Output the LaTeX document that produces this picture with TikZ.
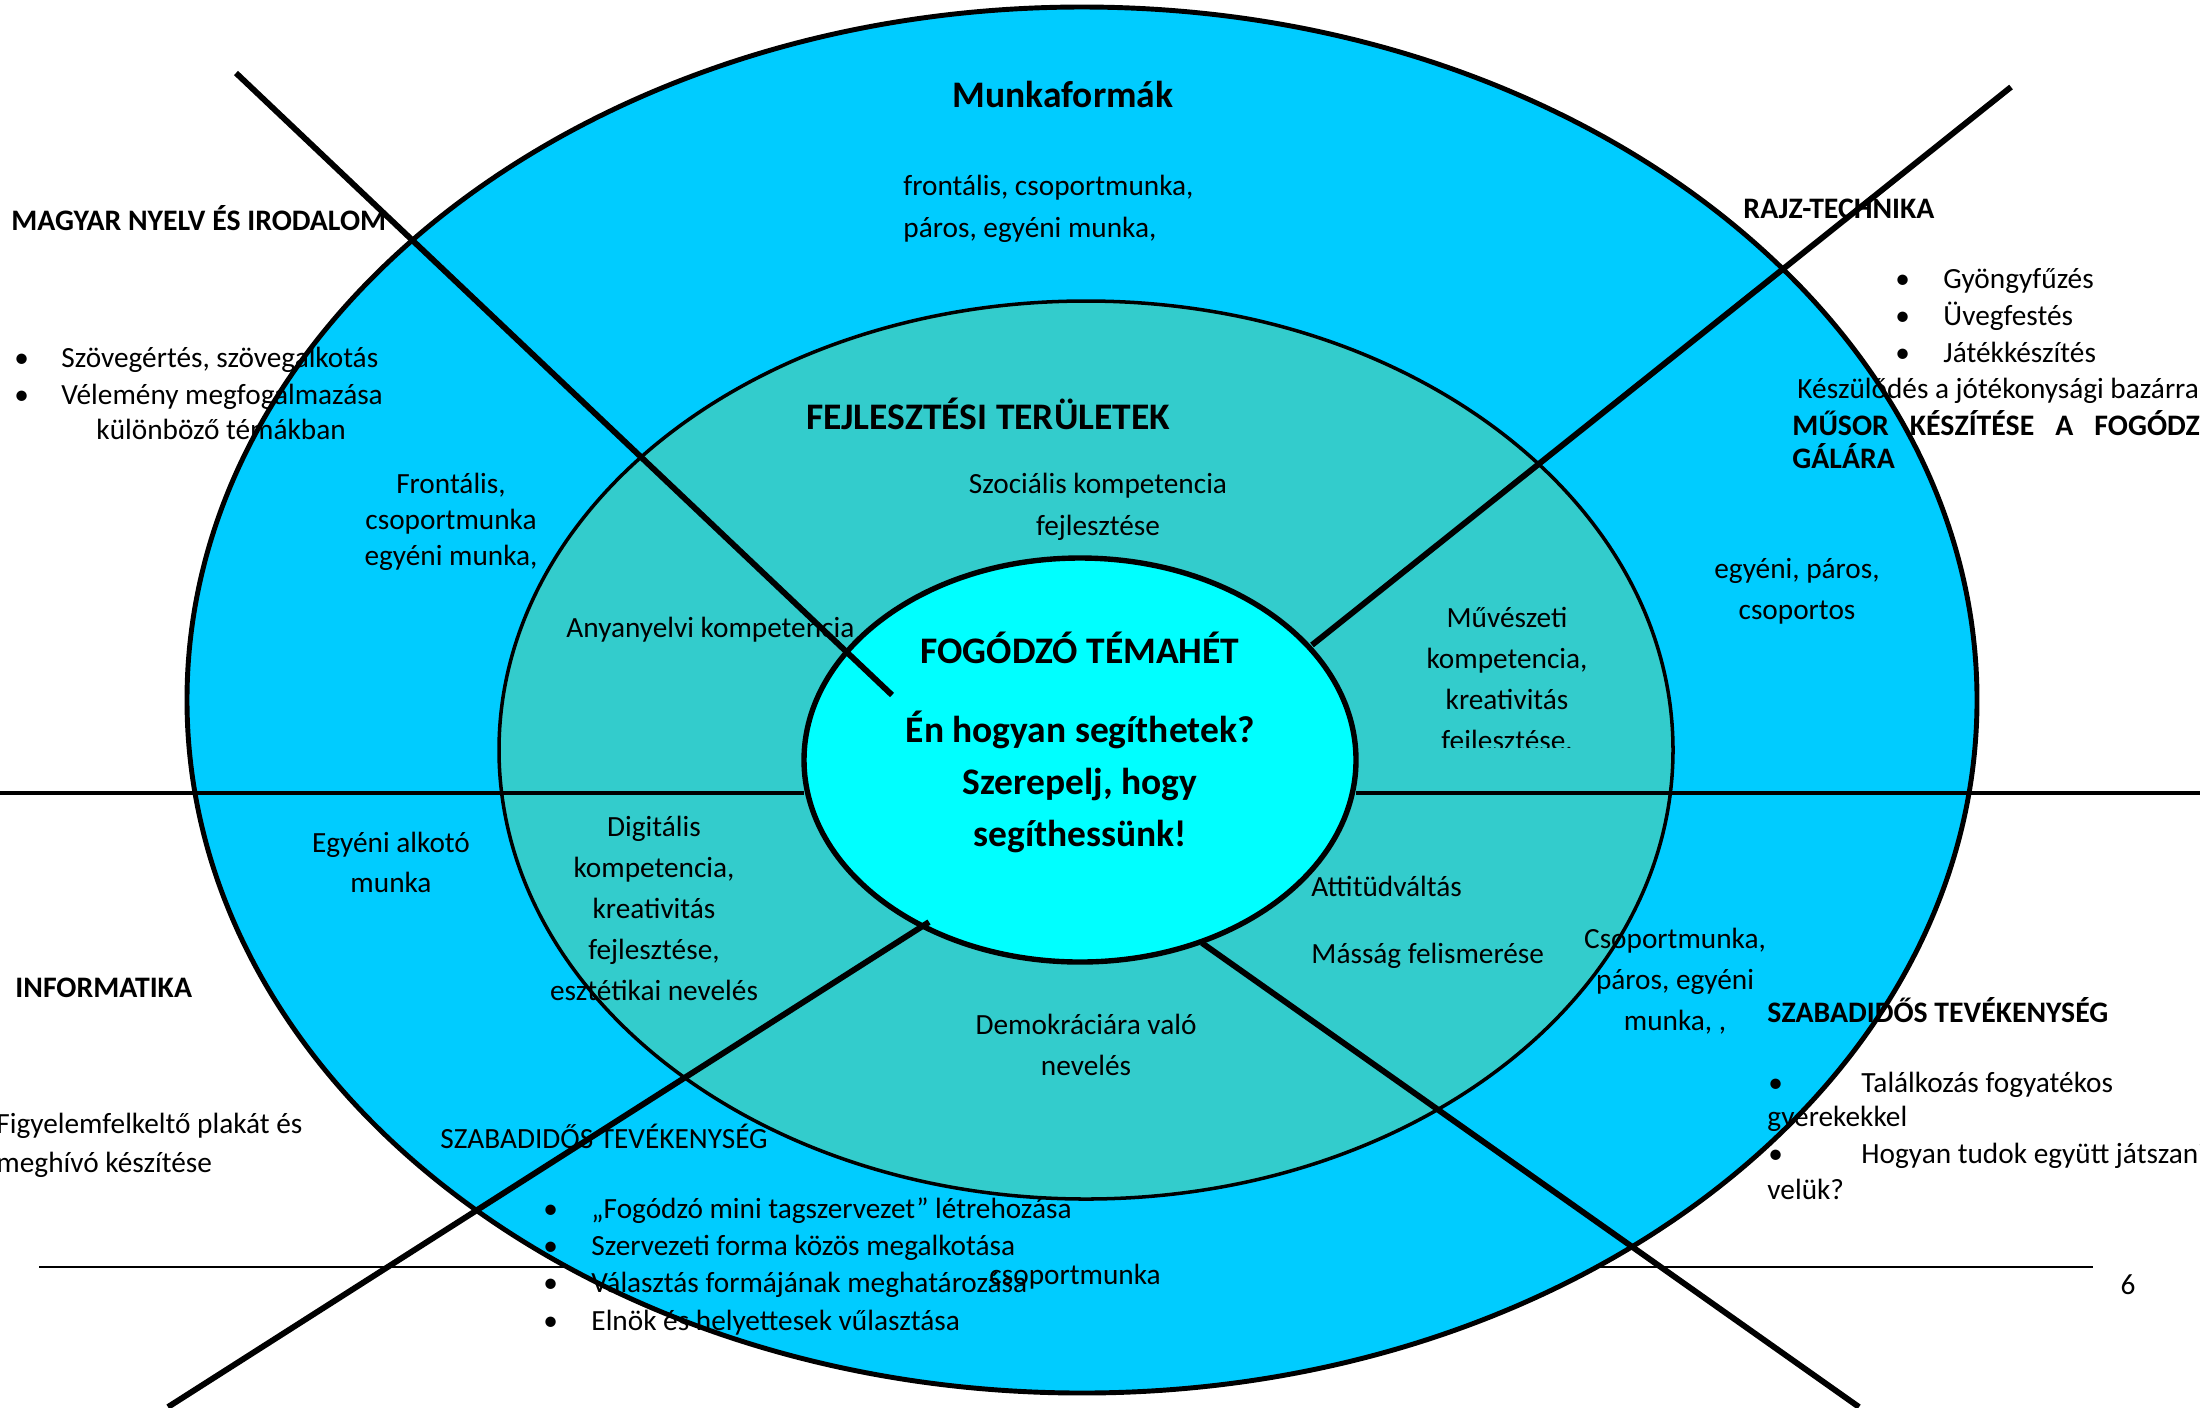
\documentclass[tikz,border=0pt]{standalone}
\usepackage{fontspec}
\setmainfont{Carlito}
\usepackage{xcolor}
\usetikzlibrary{positioning}
\definecolor{outerblue}{HTML}{00CCFF}
\definecolor{midteal}{HTML}{33CCCC}
\definecolor{innercyan}{HTML}{00FFFF}

\tikzset{
  txt/.style={inner sep=0pt, font=\fontsize{12.5}{15}\selectfont},
  hdr/.style={inner sep=0pt, font=\fontsize{12.7}{15}\selectfont\bfseries},
  subhdr/.style={inner sep=0pt, font=\fontsize{16}{19}\selectfont\bfseries},
  bighdr/.style={inner sep=0pt, font=\fontsize{16}{19}\selectfont\bfseries},
  divider/.style={line width=2.5pt},
}

\begin{document}
\begin{tikzpicture}[x=0.015cm, y=-0.015cm]
                \useasboundingbox (0,0) rectangle (2200,1407);
                % Footer
                \coordinate (foot-l) at (39,1267);
                \coordinate (foot-r) at (2093,1267);
                \draw[line width=0.8pt] (foot-l) -- (foot-r);
                \node[txt, anchor=base] (pagenum) at (2128,1294) {6};
                % Rings
                \draw[line width=2.1pt, fill=outerblue] (1082,700) ellipse [x radius=895, y radius=693];
                \draw[line width=1.5pt, fill=midteal] (1086,750) ellipse [x radius=587, y radius=449];
                \draw[line width=2.3pt, fill=innercyan] (1080,760) ellipse [x radius=276, y radius=202];
                % Dividers
                \coordinate (hl-out) at (0,793);    \coordinate (hl-in) at (804,793);
                \coordinate (hr-in) at (1356,793);  \coordinate (hr-out) at (2200,793);
                \coordinate (ul-out) at (236,73);   \coordinate (ul-in) at (892,695);
                \coordinate (ur-out) at (2011,87);  \coordinate (ur-in) at (1312,645);
                \coordinate (ll-out) at (168,1407); \coordinate (ll-in) at (929,922);
                \coordinate (lr-out) at (1859,1407);\coordinate (lr-in) at (1202,943);
                \draw[line width=2.1pt] (hl-out) -- (hl-in);
                \draw[line width=2.1pt] (hr-in) -- (hr-out);
                \draw[divider] (ul-out) -- (ul-in);
                \draw[divider] (ur-out) -- (ur-in);
                \draw[divider] (ll-out) -- (ll-in);
                \draw[divider] (lr-out) -- (lr-in);
                % Outer ring
                \node[bighdr, anchor=base] (munka-title) at (1063,107) {Munkaformák};
                \foreach \t [count=\i from 0] in {{frontális, csoportmunka,},{páros, egyéni munka,}}
                    \node[txt, anchor=base west] (munka-\i) at (903,195+42*\i) {\t};
                \foreach \t [count=\i from 0] in {{Frontális,},csoportmunka,{egyéni munka,}}
                    \node[txt, anchor=base] (nw-work-\i) at (451,493+36*\i) {\t};
                \foreach \t [count=\i from 0] in {{egyéni, páros,},csoportos}
                    \node[txt, anchor=base] (ne-work-\i) at (1797,578+41*\i) {\t};
                \foreach \t [count=\i from 0] in {Egyéni alkotó,munka}
                    \node[txt, anchor=base] (sw-work-\i) at (391,852+40*\i) {\t};
                \foreach \t [count=\i from 0] in {{Csoportmunka,},{páros, egyéni},{munka, ,}}
                    \node[txt, anchor=base] (se-work-\i) at (1675,948+41*\i) {\t};
                \node[txt, anchor=base west] (s-work) at (989,1284) {csoportmunka};
                % Middle ring
                \node[subhdr, anchor=base] (fejl-title) at (988,429) {FEJLESZTÉSI TERÜLETEK};
                \foreach \t [count=\i from 0] in {Szociális kompetencia,fejlesztése}
                    \node[txt, anchor=base] (szoc-\i) at (1098,493+42*\i) {\t};
                \node[txt, anchor=base west] (anyany) at (566,637) {Anyanyelvi kompetencia};
                \begin{scope}
                    \clip (1380,580) rectangle (1640,747);
                    \foreach \t [count=\i from 0] in {Művészeti,{kompetencia,},kreativitás,{fejlesztése,}}
                        \node[txt, anchor=base] (muv-\i) at (1507,627+41*\i) {\t};
                \end{scope}
                \foreach \t [count=\i from 0] in {Digitális,{kompetencia,},kreativitás,{fejlesztése,},esztétikai nevelés}
                    \node[txt, anchor=base] (dig-\i) at (654,836+41*\i) {\t};
                \foreach \t [count=\i from 0] in {Demokráciára való,nevelés}
                    \node[txt, anchor=base] (demo-\i) at (1086,1034+41*\i) {\t};
                \node[txt, anchor=base west] (attit) at (1311,896) {Attitüdváltás};
                \node[txt, anchor=base west] (massag) at (1311,963) {Másság felismerése};
                % Centre
                \node[subhdr, anchor=base] (tema-title) at (1080,663) {FOGÓDZÓ TÉMAHÉT};
                \foreach \t [count=\i from 0] in {Én hogyan segíthetek?,{Szerepelj, hogy},segíthessünk!}
                    \node[bighdr, anchor=base] (motto-\i) at (1080,742+52*\i) {\t};
                % Subjects outside
                \node[hdr, anchor=base west] (magyar) at (11,230) {MAGYAR NYELV ÉS IRODALOM};
                \foreach \t [count=\i from 0] in {{Szövegértés, szövegalkotás},Vélemény megfogalmazása}{
                    \node[txt, anchor=base west] (magyar-b\i) at (14,367+37*\i) {•};
                    \node[txt, anchor=base west] (magyar-\i) at (61,367+37*\i) {\t};
                }
                \node[txt, anchor=base west] (magyar-2) at (96,439) {különböző témákban};
                \node[hdr, anchor=base west] (rajz) at (1743,218) {RAJZ-TECHNIKA};
                \foreach \t [count=\i from 0] in {Gyöngyfűzés,Üvegfestés,Játékkészítés}{
                    \node[txt, anchor=base west] (rajz-b\i) at (1895,288+37*\i) {•};
                    \node[txt, anchor=base west] (rajz-\i) at (1943,288+37*\i) {\t};
                }
                \node[txt, anchor=base west] (bazar) at (1797,398) {Készülődés a jótékonysági bazárra};
                \node[hdr, anchor=base west] (musor) at (1792,435) {MŰSOR\hspace{9pt}KÉSZÍTÉSE\hspace{9pt}A\hspace{9pt}FOGÓDZÓ};
                \node[hdr, anchor=base west] (gala) at (1792,468) {GÁLÁRA};
                \node[hdr, anchor=base west] (info) at (15,997) {INFORMATIKA};
                \foreach \t [count=\i from 0] in {Figyelemfelkeltő plakát és,meghívó készítése}
                    \node[txt, anchor=base west] (info-\i) at (-4,1133+39*\i) {\t};
                \node[txt, anchor=base west] (szabad-l) at (440,1148) {SZABADIDŐS TEVÉKENYSÉG};
                \foreach \t [count=\i from 0] in {„Fogódzó mini tagszervezet” létrehozása,Szervezeti forma közös megalkotása,Választás formájának meghatározása,Elnök és helyettesek vűlasztása}{
                    \node[txt, anchor=base west] (szabad-lb\i) at (543,1218+37.4*\i) {•};
                    \node[txt, anchor=base west] (szabad-l\i) at (591,1218+37.4*\i) {\t};
                }
                \node[hdr, anchor=base west] (szabad-r) at (1767,1022) {SZABADIDŐS TEVÉKENYSÉG};
                \foreach \t [count=\i from 0] in {Találkozás fogyatékos,Hogyan tudok együtt játszani}
                    \node[txt, anchor=base west] (szabad-rb\i) at (1768,1092+71*\i) {•};
                \node[txt, anchor=base west] (szabad-r0) at (1861,1092) {Találkozás fogyatékos};
                \node[txt, anchor=base west] (szabad-r1) at (1767,1126) {gyerekekkel};
                \node[txt, anchor=base west] (szabad-r2) at (1861,1163) {Hogyan tudok együtt játszani};
                \node[txt, anchor=base west] (szabad-r3) at (1767,1199) {velük?};
            \end{tikzpicture}
\end{document}
